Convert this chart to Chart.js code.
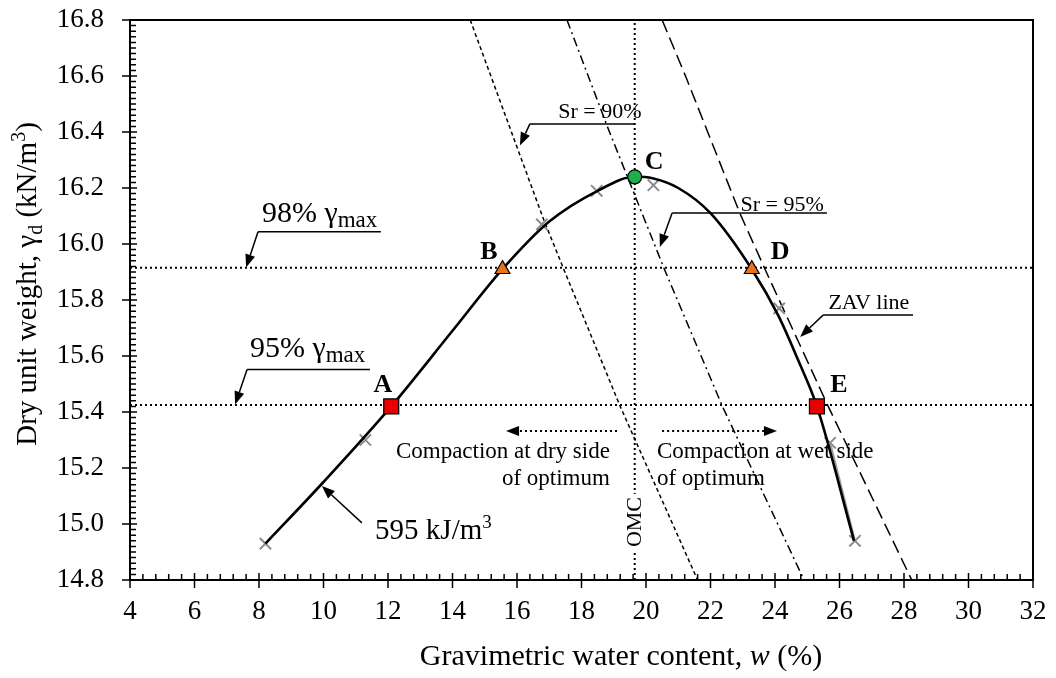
<!DOCTYPE html>
<html>
<head>
<meta charset="utf-8">
<script src="https://cdn.jsdelivr.net/npm/chart.js@4.4.1/dist/chart.umd.min.js"></script>
<style>
  html, body { margin: 0; padding: 0; background: #fff; }
  #wrap { width: 1056px; height: 678px; }
</style>
</head>
<body>
<div id="wrap"><canvas id="chart" width="1056" height="678"></canvas></div>
<script>
// Compaction curve (595 kJ/m3)
const curveW  = [8.2, 10.0, 12.1, 14.0, 15.55, 17.0, 18.5, 19.65, 20.2, 21.0, 22.0, 23.28, 24.1, 24.7, 25.3, 26.45];
const curveGd = [14.93, 15.15, 15.42, 15.69, 15.91, 16.08, 16.19, 16.24, 16.235, 16.20, 16.11, 15.91, 15.745, 15.59, 15.42, 14.94];

// measured test points (grey crosses)
const testW  = [8.2, 11.3, 16.77, 18.47, 20.23, 24.13, 25.71, 26.48];
const testGd = [14.93, 15.30, 16.07, 16.19, 16.21, 15.77, 15.29, 14.94];
const tailW  = [25.71, 26.48];
const tailGd = [15.29, 14.94];

// key points A-E
const keyLabels = ["A", "B", "C", "D", "E"];
const keyW  = [12.1, 15.55, 19.65, 23.28, 25.3];
const keyGd = [15.42, 15.91, 16.24, 15.91, 15.42];

// saturation lines
const sr90W  = [14.55, 16.85, 17.45, 19.2, 21.6];
const sr90Gd = [16.8, 16.08, 15.91, 15.42, 14.8];
const sr95W  = [17.55, 18.8, 20.57, 22.37, 24.9];
const sr95Gd = [16.8, 16.42, 15.91, 15.42, 14.8];
const zavW   = [20.5, 21.26, 22.91, 23.69, 25.65, 28.24];
const zavGd  = [16.8, 16.59, 16.11, 15.91, 15.42, 14.8];

// reference levels
const gamma98 = 15.915;
const gamma95 = 15.425;
const omc = 19.65;

// axes
const xMin = 4, xMax = 32, xStep = 2, xMinor = 0.4;
const yMin = 14.8, yMax = 16.8, yStep = 0.2, yMinor = 0.02;

const SERIF = '"Liberation Serif", "Times New Roman", serif';
const zip = (xs, ys) => xs.map((v, i) => ({ x: v, y: ys[i] }));

function arrow(ctx, x1, y1, x2, y2, dotted) {
  const ang = Math.atan2(y2 - y1, x2 - x1);
  const hl = 13, hw = 5;
  const bx = x2 - Math.cos(ang) * hl, by = y2 - Math.sin(ang) * hl;
  ctx.setLineDash(dotted ? [2, 3] : []);
  ctx.lineWidth = dotted ? 2 : 1.5;
  ctx.beginPath();
  ctx.moveTo(x1, y1);
  ctx.lineTo(bx, by);
  ctx.stroke();
  ctx.setLineDash([]);
  ctx.beginPath();
  ctx.moveTo(x2, y2);
  ctx.lineTo(bx + Math.sin(ang) * hw, by - Math.cos(ang) * hw);
  ctx.lineTo(bx - Math.sin(ang) * hw, by + Math.cos(ang) * hw);
  ctx.closePath();
  ctx.fill();
}

function richWidth(ctx, parts) {
  let w = 0;
  parts.forEach(p => { ctx.font = p.font; w += ctx.measureText(p.t).width; });
  return w;
}

function drawRich(ctx, parts, x, y) {
  parts.forEach(p => {
    ctx.font = p.font;
    ctx.fillText(p.t, x, y + (p.dy || 0));
    x += ctx.measureText(p.t).width;
  });
}

const decor = {
  id: "decor",
  afterDatasetsDraw(chart) {
    const { ctx, chartArea: a, scales } = chart;
    const X = v => scales.x.getPixelForValue(v);
    const Y = v => scales.y.getPixelForValue(v);
    ctx.save();
    ctx.strokeStyle = "#000";
    ctx.fillStyle = "#000";

    // frame
    ctx.lineWidth = 2;
    ctx.strokeRect(a.left, a.top, a.right - a.left, a.bottom - a.top);

    // tick marks
    ctx.lineWidth = 1.5;
    ctx.beginPath();
    const nx = Math.round((xMax - xMin) / xMinor), rx = Math.round(xStep / xMinor);
    for (let i = 0; i <= nx; i++) {
      const px = X(xMin + i * xMinor);
      const major = i % rx === 0;
      ctx.moveTo(px, a.bottom + (major ? 8 : 0));
      ctx.lineTo(px, a.bottom - (major ? 7 : 6));
    }
    const ny = Math.round((yMax - yMin) / yMinor), ry = Math.round(yStep / yMinor);
    for (let i = 0; i <= ny; i++) {
      const py = Y(yMin + i * yMinor);
      const major = i % ry === 0;
      ctx.moveTo(a.left - (major ? 8 : 0), py);
      ctx.lineTo(a.left + (major ? 7 : 6), py);
    }
    ctx.stroke();

    // point letters
    ctx.font = "bold 26px " + SERIF;
    ctx.textAlign = "center";
    ctx.textBaseline = "middle";
    const letterPos = [[11.84, 15.496], [15.13, 15.971], [20.25, 16.293], [24.16, 15.971], [25.98, 15.496]];
    keyLabels.forEach((t, i) => ctx.fillText(t, X(letterPos[i][0]), Y(letterPos[i][1])));

    // Sr = 90%
    ctx.font = "22px " + SERIF;
    ctx.fillText("Sr = 90%", X(18.57), Y(16.471));
    ctx.lineWidth = 1.5;
    ctx.beginPath();
    ctx.moveTo(X(19.66), Y(16.429));
    ctx.lineTo(X(16.40), Y(16.429));
    ctx.stroke();
    arrow(ctx, X(16.40), Y(16.429), X(16.09), Y(16.352));

    // Sr = 95%
    ctx.fillText("Sr = 95%", X(24.22), Y(16.139));
    ctx.beginPath();
    ctx.moveTo(X(25.61), Y(16.111));
    ctx.lineTo(X(20.81), Y(16.111));
    ctx.stroke();
    arrow(ctx, X(20.81), Y(16.111), X(20.43), Y(15.989));

    // ZAV line
    ctx.fillText("ZAV line", X(26.91), Y(15.789));
    ctx.beginPath();
    ctx.moveTo(X(28.28), Y(15.746));
    ctx.lineTo(X(25.49), Y(15.746));
    ctx.stroke();
    arrow(ctx, X(25.49), Y(15.746), X(24.78), Y(15.668));

    // 98% / 95% gamma max
    ctx.textAlign = "left";
    ctx.textBaseline = "alphabetic";
    const big = "30px " + SERIF, sub = "23px " + SERIF;
    drawRich(ctx, [{ t: "98% γ", font: big }, { t: "max", font: sub, dy: 5 }], X(8.09), Y(16.08));
    drawRich(ctx, [{ t: "95% γ", font: big }, { t: "max", font: sub, dy: 5 }], X(7.72), Y(15.598));
    ctx.beginPath();
    ctx.moveTo(X(11.78), Y(16.044));
    ctx.lineTo(X(7.97), Y(16.044));
    ctx.moveTo(X(11.44), Y(15.552));
    ctx.lineTo(X(7.63), Y(15.552));
    ctx.stroke();
    arrow(ctx, X(7.97), Y(16.044), X(7.60), Y(15.916));
    arrow(ctx, X(7.63), Y(15.552), X(7.26), Y(15.427));

    // 595 kJ/m3
    drawRich(ctx, [{ t: "595 kJ/m", font: "29px " + SERIF }, { t: "3", font: "19px " + SERIF, dy: -11 }], X(11.6), Y(14.945));
    arrow(ctx, X(11.19), Y(15.004), X(9.95), Y(15.136));

    // compaction side notes
    ctx.font = "23px " + SERIF;
    ctx.textBaseline = "middle";
    ctx.textAlign = "right";
    ctx.fillText("Compaction at dry side", X(18.88), Y(15.257));
    ctx.fillText("of optimum", X(18.88), Y(15.161));
    ctx.textAlign = "left";
    ctx.fillText("Compaction at wet side", X(20.34), Y(15.257));
    ctx.fillText("of optimum", X(20.34), Y(15.161));
    arrow(ctx, X(19.10), Y(15.332), X(15.66), Y(15.332), true);
    arrow(ctx, X(20.50), Y(15.332), X(24.06), Y(15.332), true);

    // OMC label on the vertical line
    ctx.save();
    ctx.translate(X(omc), Y(15.007));
    ctx.rotate(-Math.PI / 2);
    ctx.font = "22px " + SERIF;
    const ow = ctx.measureText("OMC").width;
    ctx.fillStyle = "#fff";
    ctx.fillRect(-ow / 2 - 3, -9, ow + 6, 18);
    ctx.fillStyle = "#000";
    ctx.textAlign = "center";
    ctx.fillText("OMC", 0, 1);
    ctx.restore();

    ctx.restore();
  },
  afterDraw(chart) {
    const { ctx } = chart;
    ctx.save();
    ctx.fillStyle = "#000";
    ctx.textBaseline = "alphabetic";
    ctx.textAlign = "left";
    const f = "29px " + SERIF, s = "20px " + SERIF;
    // y title
    const yParts = [
      { t: "Dry unit weight, γ", font: f },
      { t: "d", font: s, dy: 6 },
      { t: " (kN/m", font: f },
      { t: "3", font: s, dy: -11 },
      { t: ")", font: f }
    ];
    const yw = richWidth(ctx, yParts);
    ctx.save();
    ctx.translate(27, 284);
    ctx.rotate(-Math.PI / 2);
    drawRich(ctx, yParts, -yw / 2, 9);
    ctx.restore();
    // x title
    const xf = "30px " + SERIF;
    const xParts = [
      { t: "Gravimetric water content, ", font: xf },
      { t: "w", font: "italic " + xf },
      { t: " (%)", font: xf }
    ];
    const xw = richWidth(ctx, xParts);
    drawRich(ctx, xParts, 621 - xw / 2, 665);
    ctx.restore();
  }
};

const lineDs = (xs, ys, dash, order) => ({
  data: zip(xs, ys),
  borderColor: "#000",
  borderWidth: 1.5,
  borderDash: dash,
  pointRadius: 0,
  tension: 0,
  order: order
});

new Chart(document.getElementById("chart"), {
  type: "line",
  data: {
    datasets: [
      // key points A-E
      {
        data: zip(keyW, keyGd),
        showLine: false,
        pointStyle: ["rect", "triangle", "circle", "triangle", "rect"],
        pointRadius: [10.6, 8.6, 7, 8.6, 10.6],
        pointBackgroundColor: ["#e60000", "#e8731a", "#1fae4b", "#e8731a", "#e60000"],
        pointBorderColor: "#000",
        pointBorderWidth: 1.2,
        order: 0
      },
      // fitted compaction curve
      {
        data: zip(curveW, curveGd),
        borderColor: "#000",
        borderWidth: 2.6,
        pointRadius: 0,
        cubicInterpolationMode: "monotone",
        order: 1
      },
      {
        data: zip(tailW, tailGd),
        borderColor: "#9a9a9a",
        borderWidth: 2,
        pointRadius: 0,
        order: 2
      },
      {
        data: zip(testW, testGd),
        showLine: false,
        pointStyle: "crossRot",
        pointRadius: 8,
        pointBorderColor: "#8c8c8c",
        pointBorderWidth: 2,
        order: 3
      },
      lineDs(sr90W, sr90Gd, [4, 3], 5),
      lineDs(sr95W, sr95Gd, [9, 4, 2, 4], 5),
      lineDs(zavW, zavGd, [13, 6], 5),
      { ...lineDs([xMin, xMax], [gamma98, gamma98], [2, 3], 6), borderWidth: 2 },
      { ...lineDs([xMin, xMax], [gamma95, gamma95], [2, 3], 6), borderWidth: 2 },
      { ...lineDs([omc, omc], [yMin, yMax], [2, 3], 6), borderWidth: 2 }
    ]
  },
  options: {
    responsive: false,
    animation: false,
    layout: { padding: { left: 0, right: 23, top: 20, bottom: 0 } },
    plugins: { legend: { display: false }, tooltip: { enabled: false } },
    scales: {
      x: {
        type: "linear",
        min: xMin, max: xMax,
        afterFit: s => { s.height = 98; s.paddingLeft = 0; s.paddingRight = 0; },
        grid: { display: false, drawTicks: false },
        border: { display: false },
        ticks: { stepSize: xStep, padding: 16, color: "#000", font: { family: SERIF, size: 27 } }
      },
      y: {
        type: "linear",
        min: yMin, max: yMax,
        afterFit: s => { s.width = 130; s.paddingTop = 0; s.paddingBottom = 0; },
        grid: { display: false, drawTicks: false },
        border: { display: false },
        ticks: { stepSize: yStep, padding: 26, color: "#000", font: { family: SERIF, size: 27 },
                 callback: v => v.toFixed(1) }
      }
    }
  },
  plugins: [decor]
});
</script>
</body>
</html>
